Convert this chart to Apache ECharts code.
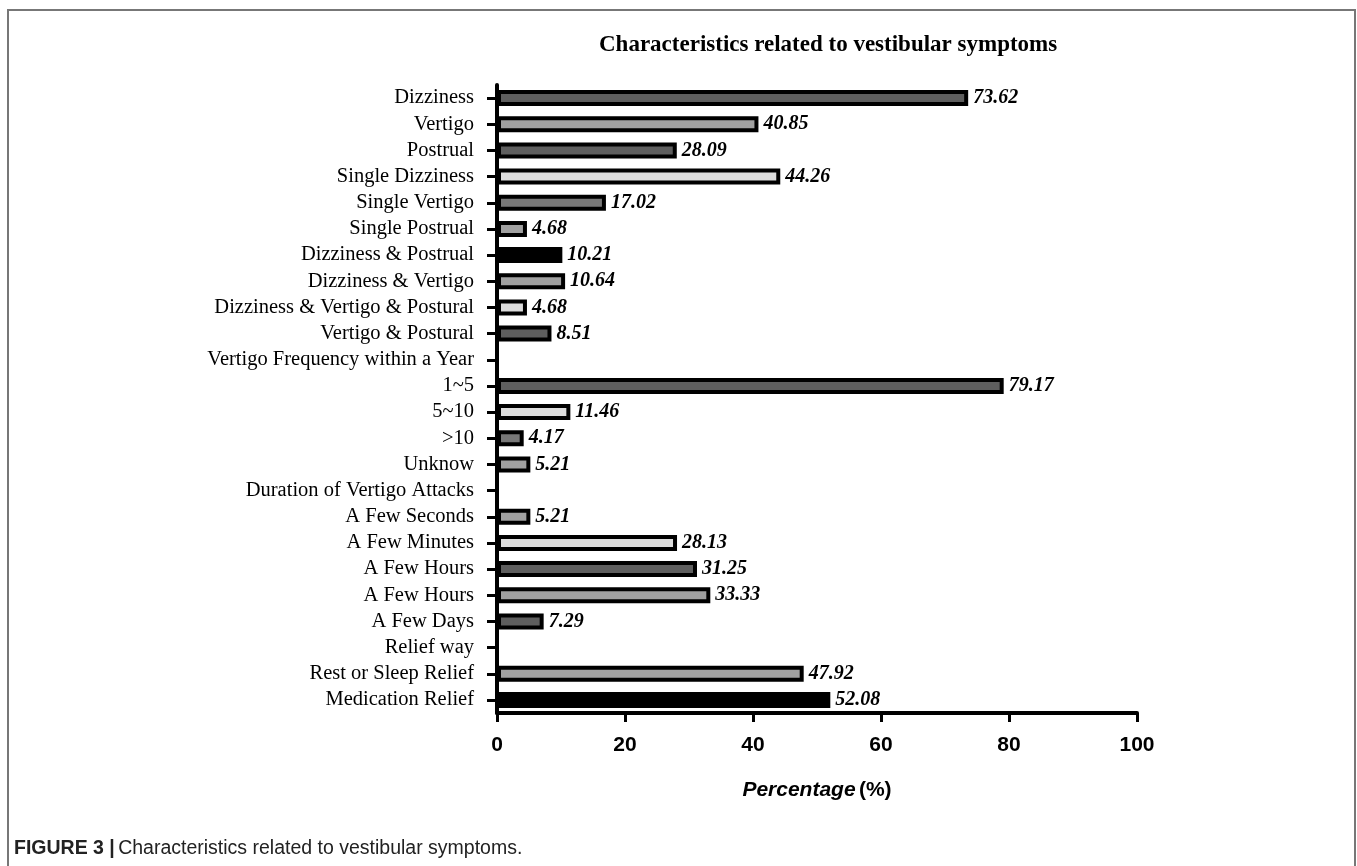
<!DOCTYPE html>
<html>
<head>
<meta charset="utf-8">
<script src="https://cdn.jsdelivr.net/npm/echarts@6/dist/echarts.min.js"></script>
<style>
  html, body { margin: 0; padding: 0; background: #fff; }
  #chart { width: 1357px; height: 866px; }
</style>
</head>
<body>
<div id="chart"></div>
<script>
/* vestibular symptom characteristics, horizontal bars */
var categories = ['Dizziness', 'Vertigo', 'Postrual', 'Single Dizziness', 'Single Vertigo',
	'Single Postrual', 'Dizziness & Postrual', 'Dizziness & Vertigo', 'Dizziness & Vertigo & Postural',
	'Vertigo & Postural', 'Vertigo Frequency within a Year', '1~5', '5~10', '>10', 'Unknow',
	'Duration of Vertigo Attacks', 'A Few Seconds', 'A Few Minutes', 'A Few Hours', 'A Few Hours',
	'A Few Days', 'Relief way', 'Rest or Sleep Relief', 'Medication Relief'];
var values = [73.62, 40.85, 28.09, 44.26, 17.02, 4.68, 10.21, 10.64, 4.68, 8.51, null,
	79.17, 11.46, 4.17, 5.21, null, 5.21, 28.13, 31.25, 33.33, 7.29, null, 47.92, 52.08];
var fills = ['#5e5e5e', '#a0a0a0', '#5e5e5e', '#dcdcdc', '#787878', '#a0a0a0', '#000000', '#a0a0a0',
	'#dcdcdc', '#5e5e5e', '#ffffff', '#5e5e5e', '#dcdcdc', '#787878', '#a0a0a0', '#ffffff',
	'#a0a0a0', '#dcdcdc', '#5e5e5e', '#a0a0a0', '#5e5e5e', '#ffffff', '#a0a0a0', '#000000'];
var xTicks = [0, 20, 40, 60, 80, 100];

(function(){
	var myChart = echarts.init(document.getElementById('chart'));
	var seriesData = values.map(function(v, i){
		return { value: v, itemStyle: { color: fills[i] } };
	});
	var option = {
		backgroundColor: '#fff',
		animation: false,
		title: {
			text: 'Characteristics related to vestibular symptoms',
			left: 594,
			top: 29,
			textStyle: {
				fontFamily: 'Liberation Serif',
				fontWeight: 'bold',
				fontSize: 23,
				color: '#000'
			}
		},
		grid: {
			left: 497,
			right: 220,
			top: 85,
			bottom: 153
		},
		xAxis: {
			type: 'value',
			min: xTicks[0],
			max: xTicks[xTicks.length - 1],
			interval: 20,
			name: '{a|Percentage} {b|(%)}',
			nameLocation: 'middle',
			nameGap: 67,
			nameTextStyle: {
				rich: {
					a: { fontFamily: 'Liberation Sans', fontWeight: 'bold', fontStyle: 'italic', fontSize: 21, color: '#000' },
					b: { fontFamily: 'Liberation Sans', fontWeight: 'bold', fontSize: 21, color: '#000' }
				}
			},
			axisLine: { show: true, lineStyle: { color: '#000', width: 4 } },
			axisTick: { show: true, length: 9, lineStyle: { color: '#000', width: 3 } },
			axisLabel: {
				margin: 22,
				fontFamily: 'Liberation Sans',
				fontWeight: 'bold',
				fontSize: 21,
				color: '#000'
			},
			splitLine: { show: false }
		},
		yAxis: {
			type: 'category',
			inverse: true,
			data: categories,
			axisLine: { show: true, lineStyle: { color: '#000', width: 4 } },
			axisTick: { show: true, alignWithLabel: true, length: 10, lineStyle: { color: '#000', width: 3 } },
			axisLabel: {
				margin: 23,
				interval: 0,
				fontFamily: 'Liberation Serif',
				fontSize: 20.5,
				color: '#000'
			}
		},
		series: [{
			type: 'bar',
			data: seriesData,
			barWidth: 16,
			itemStyle: { borderColor: '#000', borderWidth: 4 },
			label: {
				show: true,
				position: 'right',
				distance: 5,
				formatter: function(p){ return p.value == null ? '' : p.value.toFixed(2); },
				fontFamily: 'Liberation Serif',
				fontWeight: 'bold',
				fontStyle: 'italic',
				fontSize: 20,
				color: '#000'
			}
		}],
		graphic: [
			{
				type: 'polyline',
				shape: { points: [[8, 866], [8, 10], [1355, 10], [1355, 866]] },
				style: { stroke: '#777', lineWidth: 2, fill: null }
			},
			{
				type: 'text',
				left: 14,
				top: 839,
				style: {
					text: '{b|FIGURE 3 |} {n|Characteristics related to vestibular symptoms.}',
					rich: {
						b: { fontFamily: 'Liberation Sans', fontWeight: 'bold', fontSize: 19.5, fill: '#222' },
						n: { fontFamily: 'Liberation Sans', fontSize: 19.5, fill: '#222' }
					}
				}
			}
		]
	};
	myChart.setOption(option);
})();
</script>
</body>
</html>
